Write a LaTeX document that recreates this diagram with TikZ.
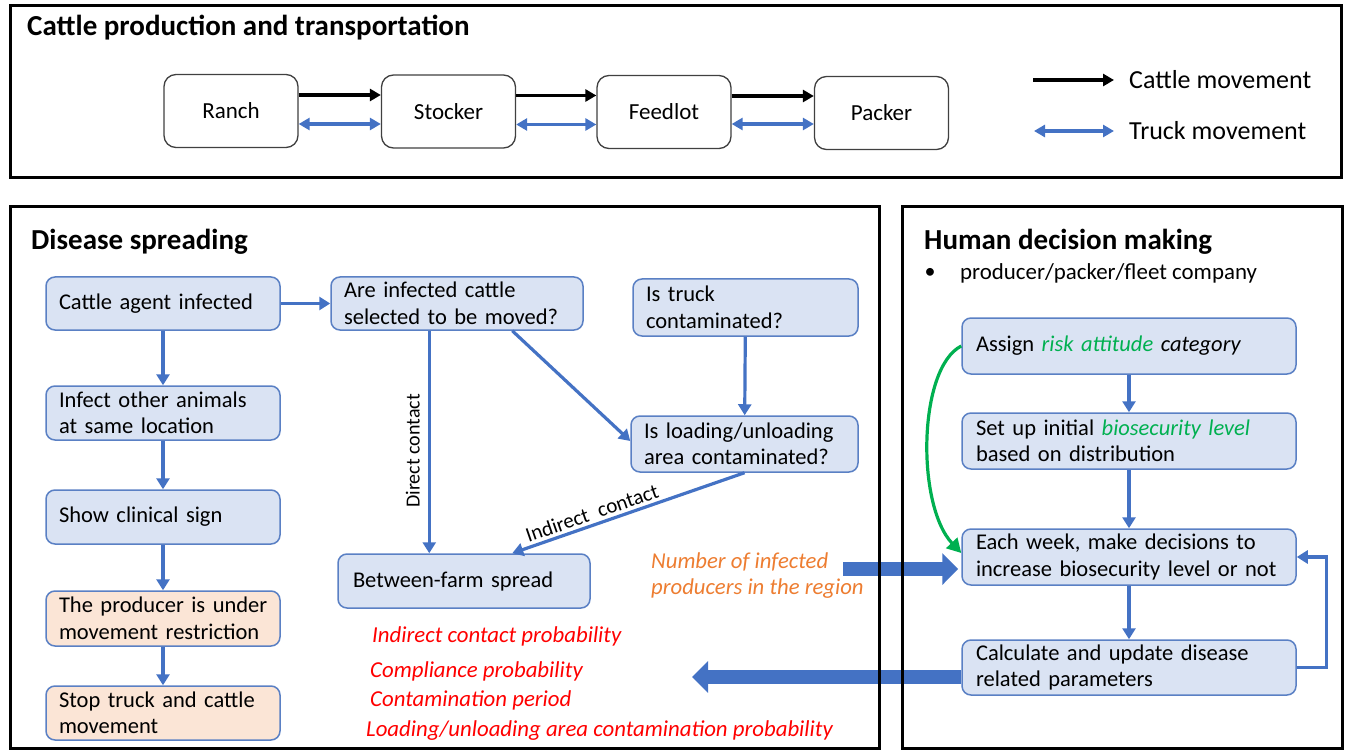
\documentclass[tikz,border=0pt]{standalone}
\usepackage{fontspec}
\setmainfont{Carlito}
\usetikzlibrary{arrows.meta,calc}
\definecolor{bfill}{HTML}{DAE3F3}
\definecolor{pfill}{HTML}{FBE5D6}
\definecolor{bborder}{HTML}{5A80C4}
\definecolor{ablue}{HTML}{4472C4}
\definecolor{tred}{HTML}{FF0000}
\definecolor{torange}{HTML}{ED7D31}
\definecolor{tgreen}{HTML}{00B050}
\newcommand{\fsz}[2]{\fontsize{#1}{#2}\selectfont\hyphenpenalty=10000\exhyphenpenalty=10000\hbadness=10000\hfuzz=30pt}
\begin{document}
\begin{tikzpicture}[x=1pt,y=-1pt,
  panel/.style={draw=black, line width=3pt},
  tbox/.style={draw=black!75, rounded corners=12pt, line width=1.3pt, fill=white, minimum width=134pt, minimum height=73pt, font=\fsz{23}{27}},
  fbox/.style={draw=bborder, fill=bfill, rounded corners=9pt, line width=1.5pt, inner xsep=13pt, inner ysep=2pt, align=left, font=\fsz{22.5}{26.5}},
  pbox/.style={fbox, fill=pfill},
  blarrow/.style={draw=ablue, line width=3.2pt, -{Triangle[length=11pt,width=13pt]}},
  cattle/.style={draw=black, line width=3.4pt, -{Triangle[length=11pt,width=12pt]}},
  truck/.style={draw=ablue, line width=3.4pt, {Triangle[length=11pt,width=12pt]}-{Triangle[length=11pt,width=12pt]}},
  fat/.style={draw=ablue, line width=14pt, -{Triangle[length=16pt,width=31pt]}},
  garrow/.style={draw=tgreen, line width=3.2pt, -{Triangle[length=14pt,width=15pt]}},
  title/.style={anchor=west, inner sep=0pt, font=\fsz{29}{34}\bfseries},
  redtxt/.style={anchor=west, inner sep=0pt, text=tred, font=\fsz{22.8}{27}\itshape},
  plain/.style={anchor=west, inner sep=0pt, font=\fsz{26}{30}}
]
\useasboundingbox (0,0) rectangle (1346,751);

% ---------- top panel ----------
\node[title] (t1) at (27,28) {Cattle production and transportation};
\node[tbox] (ranch) at (231,111) {Ranch};
\node[tbox] (stocker) at (448.5,111.5) {Stocker};
\node[tbox] (feedlot) at (664,112) {Feedlot};
\node[tbox] (packer) at (881.5,113) {Packer};
\coordinate (ca1) at ([yshift=16pt]ranch.east);
\coordinate (ca2) at ([yshift=16pt]stocker.east);
\coordinate (ca3) at ([yshift=16pt]feedlot.east);
\coordinate (ta1) at ([yshift=-13pt]ranch.east);
\coordinate (ta2) at ([yshift=-13pt]stocker.east);
\coordinate (ta3) at ([yshift=-12pt]feedlot.east);
\draw[cattle] (ca1) -- (stocker.west |- ca1);
\draw[cattle] (ca2) -- (feedlot.west |- ca2);
\draw[cattle] (ca3) -- (packer.west |- ca3);
\draw[truck] (ta1) -- (stocker.west |- ta1);
\draw[truck] (ta2) -- (feedlot.west |- ta2);
\draw[truck] (ta3) -- (packer.west |- ta3);
\coordinate (l1a) at (1033,80);
\coordinate (l1b) at (1114,80);
\coordinate (l2a) at (1034,131);
\coordinate (l2b) at (1114,131);
\draw[cattle] (l1a) -- (l1b);
\draw[truck] (l2a) -- (l2b);
\node[plain] (lg1) at (1129,80) {Cattle movement};
\node[plain] (lg2) at (1129,131) {Truck movement};

% ---------- disease spreading ----------
\node[title] (t2) at (31,242) {Disease spreading};
\node[fbox, text width=208pt, minimum height=53pt] (c1) at (163,303.5) {Cattle agent infected};
\node[fbox, text width=208pt, minimum height=54pt] (c2) at (163,413) {Infect other animals\\at same location};
\node[fbox, text width=208pt, minimum height=54pt] (c3) at (163,517) {Show clinical sign};
\node[pbox, text width=208pt, minimum height=55pt] (c4) at (163,618.5) {\mbox{The producer is under}\\\mbox{movement restriction}};
\node[pbox, text width=208pt, minimum height=54pt] (c5) at (163,713) {Stop truck and cattle\\movement};
\draw[blarrow] (c1) -- (c2);
\draw[blarrow] (c2) -- (c3);
\draw[blarrow] (c3) -- (c4);
\draw[blarrow] (c4) -- (c5);

\node[fbox, text width=226pt, minimum height=53pt] (are) at (457,303.5) {Are infected cattle\\selected to be moved?};
\node[fbox, text width=199pt, minimum height=57pt] (truck) at (745.5,307.5) {Is truck\\contaminated?};
\node[fbox, text width=201pt, minimum height=56pt] (load) at (744.5,444) {Is loading/unloading\\area contaminated?};
\node[fbox, inner xsep=15pt, text width=222pt, minimum height=54pt] (betw) at (464,581) {Between-farm spread};

\draw[blarrow] (c1) -- (are);
\coordinate (dcs) at ([xshift=99pt]are.south west);
\draw[blarrow] (dcs) -- (dcs |- betw.north)
  node[pos=0.54, rotate=90, anchor=south, inner sep=8pt, font=\fsz{20}{24}] (dclab) {Direct contact};
\coordinate (dgs) at ([xshift=182pt]are.south west);
\coordinate (dge) at ([yshift=3pt]load.west);
\draw[blarrow] (dgs) -- (dge);
\draw[blarrow] (truck) -- (load);
\coordinate (ice) at ([xshift=175pt]betw.north west);
\draw[blarrow] (load.south) -- (ice)
  node[pos=0.64, rotate=19.2, anchor=south, inner sep=3pt, font=\fsz{21}{25}] (iclab) {Indirect\hspace{10pt}contact};

\node[redtxt] (r1) at (372,636) {Indirect contact probability};
\node[redtxt] (r2) at (370,671) {Compliance probability};
\node[redtxt] (r3) at (370,700) {Contamination period};
\node[redtxt] (r4) at (366,731) {Loading/unloading area contamination probability};

\node[anchor=west, align=left, inner sep=0pt, text=torange, font=\fsz{22.7}{26}\itshape] (num) at (651,576) {Number of infected\\producers in the region};

% ---------- human decision making ----------
\node[title] (t3) at (924,242) {Human decision making};
\node[anchor=center, inner sep=0pt, font=\fsz{22}{25}] (bul) at (930,273) {•};
\node[anchor=west, inner sep=0pt, font=\fsz{22.9}{26}] (who) at (960,273) {producer/packer/fleet company};

\node[fbox, inner xsep=14pt, text width=306pt, minimum height=56pt] (ha) at (1129,346) {Assign \textcolor{tgreen}{\itshape risk attitude} \textit{category}};
\node[fbox, inner xsep=14pt, text width=306pt, minimum height=56pt] (hb) at (1129,441) {Set up initial \textcolor{tgreen}{\itshape biosecurity level}\\based on distribution};
\node[fbox, inner xsep=14pt, text width=306pt, minimum height=56pt] (hc) at (1129,557) {Each week, make decisions to\\increase biosecurity level or not};
\node[fbox, inner xsep=14pt, text width=306pt, minimum height=55pt] (hd) at (1129,667.5) {Calculate and update disease\\related parameters};
\draw[blarrow] (ha) -- (hb);
\draw[blarrow] (hb) -- (hc);
\draw[blarrow] (hc) -- (hd);
\draw[blarrow] (hd.east) -- ++(30,0) |- (hc.east);
\coordinate (gend) at ([yshift=4pt]hc.west);
\draw[garrow] (ha.west) .. controls (918,368) and (916,505) .. (gend);

% ---------- fat arrows ----------
\coordinate (fs1) at (843,569);
\coordinate (fe1) at ([yshift=-12pt,xshift=-3pt]hc.west);
\draw[fat] (fs1) -- (fe1);
\coordinate (fs2) at ([yshift=-9.5pt]hd.west);
\coordinate (fe2) at (692,677);
\draw[fat] (fs2) -- (fe2);

% ---------- panels ----------
\draw[panel] (10,6) rectangle (1341,178);
\draw[panel] (10,207) rectangle (879,748);
\draw[panel] (902,207) rectangle (1342,748);
\end{tikzpicture}
\end{document}
